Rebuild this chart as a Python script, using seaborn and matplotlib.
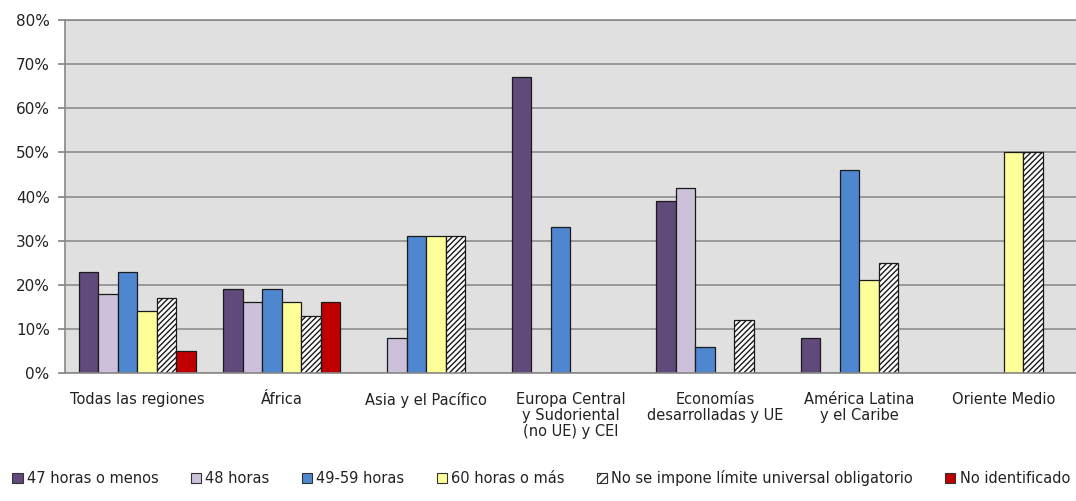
import matplotlib
matplotlib.use("Agg")
import matplotlib.pyplot as plt
import matplotlib.patches as mpatches
from matplotlib.ticker import PercentFormatter, FixedLocator
import numpy as np
import pandas as pd
import seaborn as sns

regions = [
    "Todas las regiones",
    "África",
    "Asia y el Pacífico",
    "Europa Central\ny Sudoriental\n(no UE) y CEI",
    "Economías\ndesarrolladas y UE",
    "América Latina\ny el Caribe",
    "Oriente Medio",
]
series = [
    "47 horas o menos",
    "48 horas",
    "49-59 horas",
    "60 horas o más",
    "No se impone límite universal obligatorio",
    "No identificado",
]
h47_menos = [23, 19, 0, 67, 39, 8, 0]
h48 = [18, 16, 8, 0, 42, 0, 0]
h49_59 = [23, 19, 31, 33, 6, 46, 0]
h60_mas = [14, 16, 31, 0, 0, 21, 50]
sin_limite = [17, 13, 31, 0, 12, 25, 50]
no_ident = [5, 16, 0, 0, 0, 0, 0]

colors = ["#604A7B", "#CCC0DA", "#4F86D0", "#FFFF99", "#FFFFFF", "#C00000"]

values = [h47_menos, h48, h49_59, h60_mas, sin_limite, no_ident]
rows = []
for s, vals in zip(series, values):
    for r, v in zip(regions, vals):
        rows.append({"region": r, "serie": s, "valor": v})
df = pd.DataFrame(rows)

sns.set_theme(style="white")
plt.rcParams["font.family"] = ["DejaVu Sans"]
plt.rcParams["hatch.linewidth"] = 1.0

fig = plt.figure(figsize=(10.76, 5.01), dpi=100)
ax = fig.add_axes([0.0604, 0.2555, 0.9396, 0.7045])
ax.set_facecolor("#E0E0E0")

sns.barplot(
    data=df, x="region", y="valor", hue="serie",
    order=regions, hue_order=series, palette=colors,
    width=0.81, gap=0, dodge=True, saturation=1,
    edgecolor="#1a1a1a", linewidth=0.9, legend=False, ax=ax,
)

for ci, cont in enumerate(ax.containers):
    for p in cont.patches:
        if ci == 4:
            p.set_hatch("//////")
        if p.get_height() == 0:
            p.set_linewidth(0)

ax.set_ylim(0, 80)
ax.set_xlim(-0.5, len(regions) - 0.5)
ax.yaxis.set_major_locator(FixedLocator(np.arange(0, 81, 10)))
ax.yaxis.set_major_formatter(PercentFormatter(decimals=0))
ax.grid(axis="y", color="#8C8C8C", linewidth=1.2)
ax.set_axisbelow(True)
ax.set_xlabel("")
ax.set_ylabel("")

ax.tick_params(axis="x", which="major", length=0, pad=14, labelsize=10.5, colors="#222222")
ax.xaxis.set_minor_locator(FixedLocator(np.arange(0.5, len(regions) - 0.5, 1)))
ax.tick_params(axis="x", which="minor", length=4, color="#888888", direction="out")
ax.tick_params(axis="y", length=5, color="#888888", direction="out", labelsize=11,
               colors="#222222", left=True, pad=6)
for lab in ax.get_xticklabels():
    lab.set_verticalalignment("top")
    lab.set_linespacing(1.05)

for side in ["left", "bottom", "top"]:
    ax.spines[side].set_color("#888888")
    ax.spines[side].set_linewidth(1.2)
ax.spines["right"].set_visible(False)

handles = []
for s, c in zip(series, colors):
    h = mpatches.Patch(facecolor=c, edgecolor="#333333", linewidth=0.8, label=s)
    if s == series[4]:
        h.set_hatch("////")
    handles.append(h)
fig.legend(
    handles=handles, loc="center", bbox_to_anchor=(0.503, 0.046), ncol=6,
    frameon=False, fontsize=10.5, handlelength=0.7, handleheight=0.7,
    handletextpad=0.3, columnspacing=2.2,
    labelcolor="#222222",
)

fig.savefig("out.png", dpi=100)
